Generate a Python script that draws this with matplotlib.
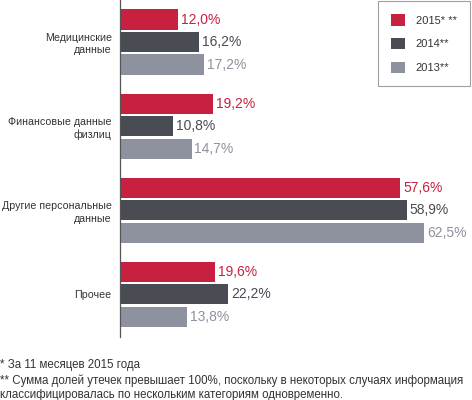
import numpy as np
import matplotlib.pyplot as plt

# === Datos ===
categorias = ["Медицинские\nданные", "Финансовые данные\nфизлиц",
              "Другие персональные\nданные", "Прочее"]
anios = ["2015* **", "2014**", "2013**"]
v2015 = [12.0, 19.2, 57.6, 19.6]
v2014 = [16.2, 10.8, 58.9, 22.2]
v2013 = [17.2, 14.7, 62.5, 13.8]
notas = ["* За 11 месяцев 2015 года",
         "** Сумма долей утечек превышает 100%, поскольку в некоторых случаях информация",
         "классифицировалась по нескольким категориям одновременно."]

colores = ["#C8203F", "#4A4C54", "#8E929E"]
series = [v2015, v2014, v2013]

plt.rcParams['font.family'] = ['Liberation Sans', 'DejaVu Sans']

fig = plt.figure(figsize=(4.72, 4.0), dpi=100)
# eje: x de 120 a 472 px, y de 0 a 337 px
ax = fig.add_axes([120 / 472, 1 - 337 / 400, 352 / 472, 337 / 400])

paso_grupo = 3.74
y_base = np.arange(len(categorias)) * paso_grupo
alto = 0.89

barras = []
for j, (vals, col, lab) in enumerate(zip(series, colores, anios)):
    y = y_base + j
    b = ax.barh(y, vals, height=alto, color=col, label=lab)
    barras.append(b)
    for yy, v in zip(y, vals):
        ax.text(v + 0.6, yy, f"{v:.1f}%".replace(".", ","), va="center",
                ha="left", fontsize=10, color=col)

ax.set_xlim(0, 72.3)
ax.set_ylim(14.11, -0.867)
ax.set_yticks(y_base + 1)
ax.set_yticklabels(categorias, fontsize=7.7, color="#333333", linespacing=1.3)
ax.tick_params(axis="y", length=0, pad=6)
ax.set_xticks([])
for s in ["top", "right", "bottom"]:
    ax.spines[s].set_visible(False)
ax.spines["left"].set_color("#555555")
ax.spines["left"].set_linewidth(0.9)

leg = ax.legend(loc="upper left", bbox_to_anchor=(378 / 472, 1 - 1 / 400),
                bbox_transform=fig.transFigure, fontsize=8, frameon=True,
                fancybox=False, edgecolor="#888888", handlelength=1.2,
                handleheight=1.2, labelspacing=1.1, borderpad=1.2,
                handletextpad=1.0, borderaxespad=0)
leg.get_frame().set_linewidth(0.8)
for t in leg.get_texts():
    t.set_color("#333333")

for i, (txt, yp) in enumerate(zip(notas, [365, 380.5, 395])):
    fig.text(0.0, 1 - yp / 400, txt, fontsize=8.3, va="center", ha="left",
             color="#333333")

fig.savefig("out.png", dpi=100)
